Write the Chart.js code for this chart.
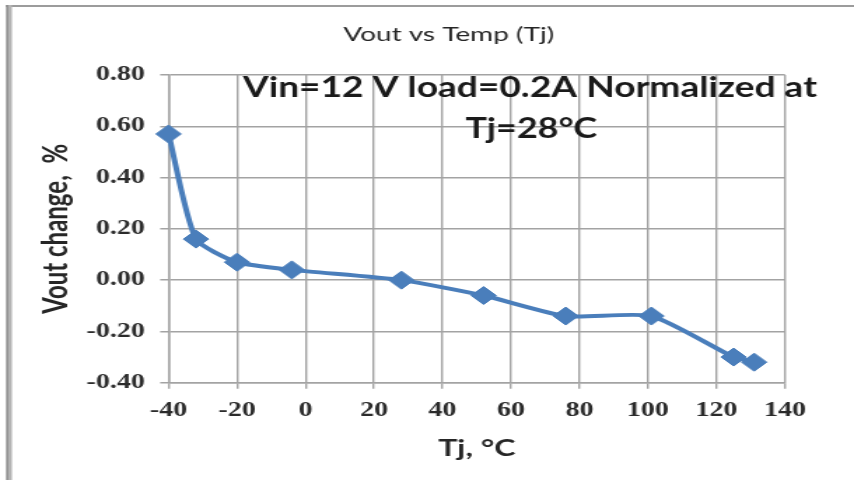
<!DOCTYPE html>
<html>
<head>
<meta charset="utf-8">
<title>Vout vs Temp (Tj)</title>
<script src="https://cdn.jsdelivr.net/npm/chart.js@4.4.1/dist/chart.umd.min.js"></script>
<style>
  html, body { margin: 0; padding: 0; background: #fff; overflow: hidden; }
</style>
</head>
<body>
<canvas id="vout" width="610" height="480" style="position:absolute;left:0;top:0;width:854px;height:480px"></canvas>
<script>
// datos
const temps = [-40, -32, -20, -4, 28, 52, 76, 101, 125, 131];
const voutChange = [0.57, 0.16, 0.07, 0.04, 0.00, -0.06, -0.14, -0.14, -0.30, -0.32];
const chartTitle = 'Vout vs Temp (Tj)';
const noteLines = ['Vin=12 V load=0.2A Normalized at', 'Tj=28°C'];
const xTitle = 'Tj, °C';
const yTitle = 'Vout change,  %';

const azul = '#4a7ebb';
const gris = '#a3a3a3';

// marco, titulo y texto de la nota
const textos = {
    id: 'textos',
    beforeDraw(chart) {
        const c = chart.ctx;
        c.save();
        c.fillStyle = '#fff';
        c.fillRect(0, 0, chart.width, chart.height);
        c.fillStyle = '#9c9c9c';
        c.fillRect(4, 5, chart.width, 2);
        c.fillStyle = '#b4b4b4';
        c.fillRect(4.5, 5, 4, chart.height);
        c.fillStyle = '#8c8c8c';
        c.fillRect(4.5, 5, 1.4, chart.height);
        c.restore();
    },
    afterDraw(chart) {
        const c = chart.ctx;
        c.save();
        c.textAlign = 'center';
        c.textBaseline = 'alphabetic';
        c.fillStyle = '#262626';
        c.font = '20px Lato';
        c.fillText(chartTitle, 320.5, 41);
        c.fillStyle = '#1a1a1a';
        c.font = 'bold 28px Lato';
        c.fillText(noteLines[0], 378.5, 97, 410);
        c.fillText(noteLines[1], 379.5, 138, 94);
        c.restore();
    }
};

new Chart(document.getElementById('vout'), {
    type: 'line',
    data: {
        labels: temps,
        datasets: [{
            data: temps.map((t, i) => ({ x: t, y: voutChange[i] })),
            borderColor: azul,
            backgroundColor: azul,
            borderWidth: 4,
            tension: 0.2,
            clip: false,
            pointStyle: 'rectRot',
            pointRadius: 9,
            pointBorderWidth: 1,
            pointBorderColor: azul,
            pointBackgroundColor: azul,
            fill: false
        }]
    },
    options: {
        responsive: false,
        devicePixelRatio: 1,
        animation: false,
        layout: { padding: { top: 75, right: 49.3, left: 0, bottom: 0 } },
        plugins: {
            legend: { display: false },
            title: { display: false },
            tooltip: { enabled: false }
        },
        scales: {
            x: {
                type: 'linear',
                min: -40,
                max: 140,
                afterFit: s => { s.height = 97.3; },
                grid: { color: gris, lineWidth: 1.4, tickLength: 6, tickColor: gris },
                border: { color: gris, width: 1.4 },
                ticks: {
                    stepSize: 20,
                    padding: 10,
                    color: '#2b2b2b',
                    font: { family: 'Liberation Serif', size: 20, weight: 'bold' }
                },
                title: {
                    display: true,
                    text: xTitle,
                    color: '#262626',
                    padding: { top: 0, bottom: 18 },
                    font: { family: 'Lato', size: 23, weight: 'bold' }
                }
            },
            y: {
                min: -0.4,
                max: 0.8,
                afterFit: s => { s.width = 120.4; },
                grid: { color: gris, lineWidth: 1.5, tickLength: 6, tickColor: gris },
                border: { color: gris, width: 1.5 },
                ticks: {
                    stepSize: 0.2,
                    padding: 11,
                    color: '#2b2b2b',
                    font: { family: 'Liberation Serif', size: 20, weight: 'bold' },
                    callback: v => v.toFixed(2)
                },
                title: {
                    display: true,
                    text: yTitle,
                    color: '#262626',
                    padding: { top: 26, bottom: 0 },
                    font: { family: 'Lato', size: 24, weight: 'bold' }
                }
            }
        }
    },
    plugins: [textos]
});
</script>
</body>
</html>
